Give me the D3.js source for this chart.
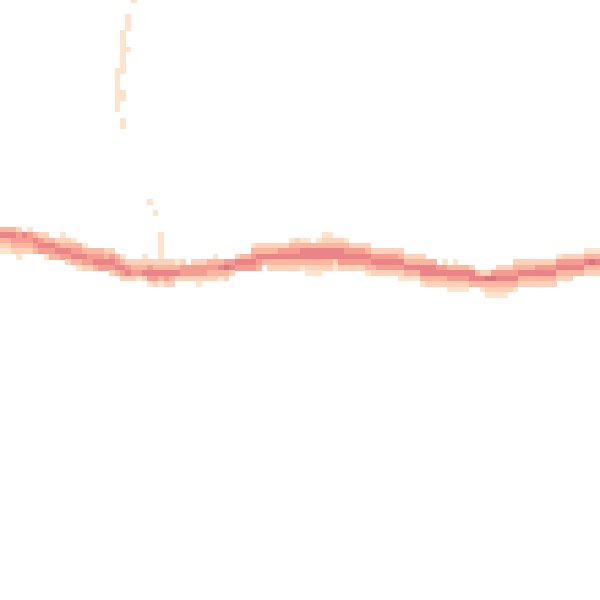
<!DOCTYPE html>
<html>
<head>
<meta charset="utf-8">
<script src="https://cdn.jsdelivr.net/npm/d3@7"></script>
<style>
  html, body { margin: 0; padding: 0; background: #ffffff; }
  svg { display: block; }
</style>
</head>
<body>
<svg id="chart" width="600" height="600"></svg>
<script>
// Binned density grid: 110 x-bins; for each bin the first occupied y-bin and
// the density level (1 = sparse ... 6 = dense) of consecutive y-bins below it.
const columnTop = [
  41, 41, 41, 41, 42, 41, 42, 42, 42, 43,
  43, 42, 43, 43, 44, 44, 45, 45, 45, 45,
  45, 46, 46, 47, 47, 47, 46, 47, 47, 42,
  47, 47, 47, 47, 48, 47, 47, 47, 47, 46,
  47, 47, 47, 46, 46, 46, 44, 44, 44, 44,
  44, 44, 44, 43, 43, 43, 43, 44, 43, 42,
  42, 43, 43, 43, 44, 44, 44, 44, 45, 45,
  45, 45, 45, 45, 46, 46, 46, 46, 47, 47,
  48, 47, 48, 47, 48, 48, 48, 49, 49, 49,
  49, 48, 48, 48, 47, 47, 47, 47, 47, 47,
  47, 47, 46, 46, 46, 46, 46, 45, 45, 45
];
const columnLevels = [
  "35321", "35321", "35432", "244321", "5432", "14432", "3543", "2454", "23541", "3543",
  "2453", "12354", "23542", "13453", "34531", "13542", "3442", "3453", "3454", "2354",
  "24542", "3453", "13542", "2452", "2342", "2341", "12352", "24541", "23542", "1111123531",
  "23542", "23532", "1352", "2442", "442", "2442", "24421", "2442", "3432", "13432",
  "3531", "4632", "452", "254", "354", "354", "13454", "23543", "2353", "23532",
  "23532", "24532", "24532", "134532", "234532", "135531", "1355321", "355321", "1355321", "1235532",
  "1235532", "235521", "235542", "134542", "24542", "24542", "24542", "235431", "24532", "24542",
  "24542", "24542", "24542", "235421", "23531", "23531", "23531", "235531", "35532", "35532",
  "4532", "14532", "35421", "135421", "35421", "35421", "2553", "353", "2531", "26321",
  "46321", "245321", "245321", "24532", "234531", "23532", "23532", "23532", "24532", "24532",
  "24532", "24532", "14532", "24532", "24532", "2453", "2453", "13532", "13632", "13532"
];
// Scattered outlying bins
const extraCol   = [24, 23, 23, 23, 22, 22, 22, 22, 22, 22, 22, 22, 23, 21, 21, 21, 21, 21, 21, 21, 21, 22, 22, 22, 22, 27, 28];
const extraRow   = [-1,  2,  3,  4,  5,  6,  7,  8,  9, 10, 11, 12,  8, 12, 13, 14, 15, 16, 17, 18, 19, 16, 17, 21, 22, 36, 38];
const extraLevel = [ 1,  1,  1,  1,  1,  1,  1,  1,  1,  1,  1,  1,  1,  1,  1,  1,  1,  1,  1,  1,  1,  1,  1,  1,  1,  1,  1];
const levelDomain = [1, 2, 3, 4, 5, 6];

const W = 600, H = 600, NX = 110, NY = 110;

const cells = [];
columnTop.forEach((top, c) => {
  columnLevels[c].split("").forEach((ch, k) => {
    const lv = +ch;
    if (lv > 0) cells.push({ col: c, row: top + k, level: lv });
  });
});
extraCol.forEach((c, i) => cells.push({ col: c, row: extraRow[i], level: extraLevel[i] }));

const x = d3.scaleLinear().domain([0, NX]).range([0, W]);
const y = d3.scaleLinear().domain([0, NY]).range([3, H + 3]);
const color = d3.scaleOrdinal()
  .domain(levelDomain)
  .range(["#fee3cd", "#fdd2b8", "#fab69f", "#f59d91", "#ea8489", "#e0727f"]);

const svg = d3.select("#chart");
svg.append("rect").attr("width", W).attr("height", H).attr("fill", "#ffffff");

svg.append("g")
  .attr("shape-rendering", "crispEdges")
  .selectAll("rect")
  .data(cells)
  .join("rect")
  .attr("x", d => x(d.col))
  .attr("y", d => y(d.row))
  .attr("width", d => x(d.col + 1) - x(d.col) + 0.3)
  .attr("height", d => y(d.row + 1) - y(d.row) + 0.3)
  .attr("fill", d => color(d.level));
</script>
</body>
</html>
